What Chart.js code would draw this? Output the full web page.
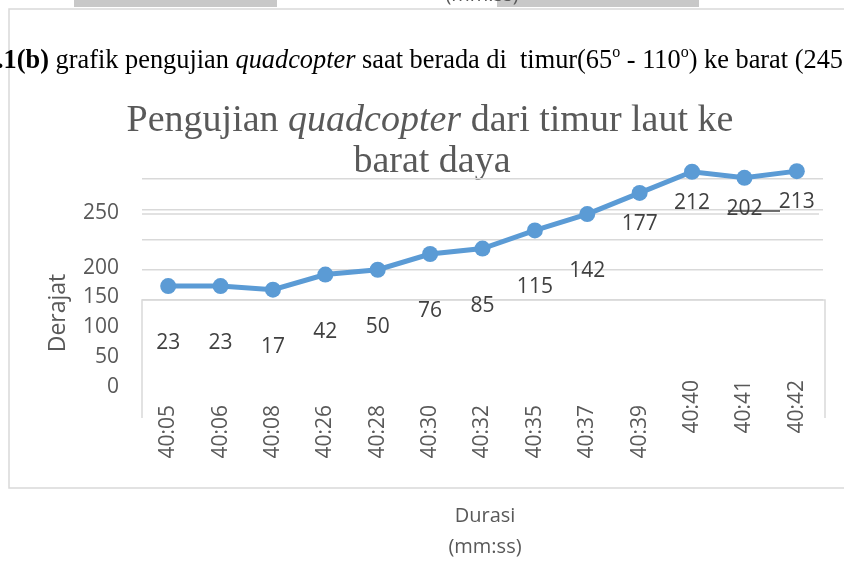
<!DOCTYPE html>
<html>
<head>
<meta charset="utf-8">
<script src="https://cdn.jsdelivr.net/npm/chart.js@4.4.0/dist/chart.umd.min.js"></script>
<style>
    html, body { margin: 0; padding: 0; background: #fff; }
    #wrap { width: 844px; height: 566px; position: relative; }
</style>
</head>
<body>
<div id="wrap"><canvas id="quadChart" width="844" height="566"></canvas></div>
<script>
// --- Data ---
const durasiLabels = ['40:05', '40:06', '40:08', '40:26', '40:28', '40:30', '40:32',
                      '40:35', '40:37', '40:39', '40:40', '40:41', '40:42'];
const derajatValues = [23, 23, 17, 42, 50, 76, 85, 115, 142, 177, 212, 202, 213];
const yTickLabels = ['0', '50', '100', '150', '200', '250'];

// --- Text / styling ---
const grey = '#595959';
const lineBlue = '#5b9bd5';
const borderGrey = '#d9d9d9';
const sans = '"Open Sans", "Liberation Sans", sans-serif';
const serif = '"Liberation Serif", "DejaVu Serif", serif';

// draw a row of styled text pieces, squeezed to a given width if asked
function drawPieces(ctx, pieces, x, y, align, fitWidth) {
    let total = 0;
    pieces.forEach(p => {
        ctx.font = p.font;
        p.w = ctx.measureText(p.text).width;
        total += p.w;
    });
    const sx = fitWidth ? fitWidth / total : 1;
    let cx = align === 'center' ? x - total * sx / 2 : x;
    ctx.save();
    ctx.textAlign = 'left';
    ctx.textBaseline = 'alphabetic';
    pieces.forEach(p => {
        ctx.font = p.font;
        ctx.save();
        ctx.translate(cx, y + (p.dy || 0));
        ctx.scale(sx, 1);
        ctx.fillText(p.text, 0, 0);
        ctx.restore();
        cx += p.w * sx;
    });
    ctx.restore();
}

const pagePlugin = {
    id: 'pagePlugin',
    beforeDraw(chart) {
        const ctx = chart.ctx;
        const area = chart.chartArea;
        ctx.save();
        ctx.fillStyle = '#fff';
        ctx.fillRect(0, 0, chart.width, chart.height);

        // strip of the previous figure at the very top
        ctx.fillStyle = '#c8c8c8';
        ctx.fillRect(74, 0, 203, 7);
        ctx.fillRect(497, 0, 202, 7);
        ctx.fillStyle = grey;
        ctx.font = '20px ' + sans;
        ctx.textAlign = 'center';
        ctx.textBaseline = 'alphabetic';
        ctx.fillText('(mm:ss)', 482, 1);

        // outer frame
        ctx.strokeStyle = borderGrey;
        ctx.lineWidth = 1.5;
        ctx.beginPath();
        ctx.moveTo(850, 9);
        ctx.lineTo(9, 9);
        ctx.lineTo(9, 488);
        ctx.lineTo(850, 488);
        ctx.stroke();

        // caption
        ctx.fillStyle = '#000';
        drawPieces(ctx, [
            { text: '.1(b)', font: 'bold 28px ' + serif },
            { text: ' grafik pengujian ', font: '28px ' + serif },
            { text: 'quadcopter', font: 'italic 28px ' + serif },
            { text: ' saat berada di  timur(65', font: '28px ' + serif },
            { text: 'o', font: '17px ' + serif, dy: -11 },
            { text: ' - 110', font: '28px ' + serif },
            { text: 'o', font: '17px ' + serif, dy: -11 },
            { text: ') ke barat (245', font: '28px ' + serif }
        ], -3, 68, 'left', 846);

        // chart title
        ctx.fillStyle = grey;
        drawPieces(ctx, [
            { text: 'Pengujian ', font: '38px ' + serif },
            { text: 'quadcopter', font: 'italic 38px ' + serif },
            { text: ' dari timur laut ke', font: '38px ' + serif }
        ], 430, 131, 'center');
        drawPieces(ctx, [{ text: 'barat daya', font: '38px ' + serif }], 432, 172, 'center');

        // y axis title
        ctx.save();
        ctx.translate(58, 313);
        ctx.rotate(-Math.PI / 2);
        ctx.font = '23px ' + sans;
        ctx.textAlign = 'center';
        ctx.textBaseline = 'middle';
        ctx.fillText('Derajat', 0, 0);
        ctx.restore();

        // displaced y tick labels (as in the source picture)
        const tickY = [387, 357, 327, 297, 268, 213];
        ctx.font = '21px ' + sans;
        ctx.textAlign = 'right';
        ctx.textBaseline = 'middle';
        yTickLabels.forEach((t, i) => ctx.fillText(t, 119, tickY[i]));

        // extra grid line behind the "250" label
        ctx.strokeStyle = borderGrey;
        ctx.lineWidth = 1.5;
        ctx.beginPath();
        ctx.moveTo(area.left, 214);
        ctx.lineTo(area.right - 4, 214);
        ctx.stroke();

        // white panel under the plot with its frame
        ctx.beginPath();
        ctx.moveTo(area.left, 418);
        ctx.lineTo(area.left, area.bottom);
        ctx.lineTo(825, area.bottom);
        ctx.lineTo(825, 418);
        ctx.stroke();

        // x axis title below the frame
        ctx.fillStyle = grey;
        ctx.font = '20px ' + sans;
        ctx.textAlign = 'center';
        ctx.textBaseline = 'middle';
        ctx.fillText('Durasi', 485, 516);
        ctx.fillText('(mm:ss)', 485, 547);
        ctx.restore();
    },
    afterDatasetsDraw(chart) {
        const ctx = chart.ctx;
        const meta = chart.getDatasetMeta(0);
        const xScale = chart.scales.x;
        ctx.save();

        // value labels under the points
        ctx.font = '21px ' + sans;
        ctx.fillStyle = '#404040';
        ctx.textAlign = 'center';
        ctx.textBaseline = 'middle';
        meta.data.forEach((pt, i) => {
            const off = i < 9 ? 57 : 31;
            ctx.fillText(String(derajatValues[i]), pt.x, pt.y + off);
        });

        // stray dark stroke through "202"
        ctx.strokeStyle = '#404040';
        ctx.lineWidth = 1.5;
        ctx.beginPath();
        ctx.moveTo(728, 211);
        ctx.lineTo(780, 211);
        ctx.stroke();

        // rotated category labels
        ctx.fillStyle = grey;
        ctx.font = '21px ' + sans;
        ctx.textAlign = 'right';
        ctx.textBaseline = 'middle';
        durasiLabels.forEach((lab, i) => {
            const x = xScale.getPixelForTick(i);
            const top = i < 10 ? 405 : 380;
            ctx.save();
            ctx.translate(x, top);
            ctx.rotate(-Math.PI / 2);
            ctx.fillText(lab, 0, 0);
            ctx.restore();
        });
        ctx.restore();
    }
};

const ctx = document.getElementById('quadChart');
new Chart(ctx, {
    type: 'line',
    data: {
        labels: durasiLabels,
        datasets: [{
            label: 'Derajat',
            data: derajatValues,
            borderColor: lineBlue,
            backgroundColor: lineBlue,
            borderWidth: 5,
            pointRadius: 8,
            pointBorderWidth: 0,
            pointBackgroundColor: lineBlue,
            tension: 0,
            clip: false
        }]
    },
    options: {
        responsive: false,
        animation: false,
        events: [],
        layout: { padding: { left: 142, right: 21, top: 179, bottom: 266 } },
        plugins: { legend: { display: false }, tooltip: { enabled: false }, title: { display: false } },
        scales: {
            x: {
                type: 'category',
                offset: true,
                ticks: { display: false },
                grid: { display: false },
                border: { display: false },
                afterFit: s => { s.height = 0; }
            },
            y: {
                min: 0,
                max: 200,
                ticks: { display: false, stepSize: 50 },
                grid: { color: borderGrey, lineWidth: 1.5, drawTicks: false },
                border: { display: false },
                afterFit: s => { s.width = 0; }
            }
        }
    },
    plugins: [pagePlugin]
});
</script>
</body>
</html>
